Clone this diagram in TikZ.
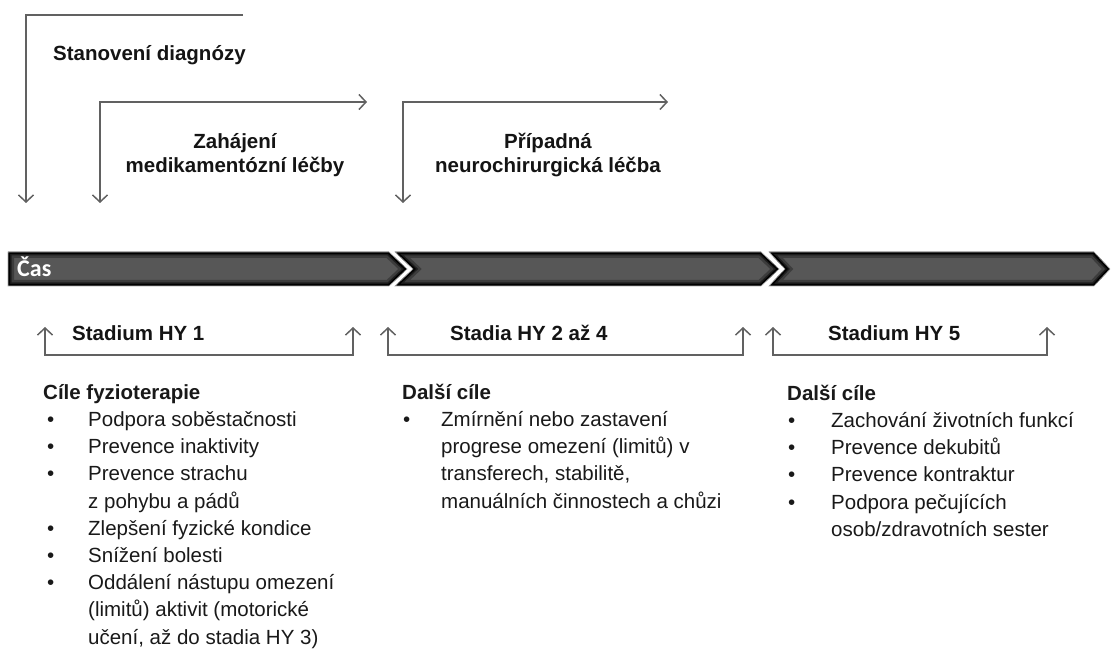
\documentclass[tikz,border=0pt]{standalone}
\usepackage{fontspec}
\setmainfont{Liberation Sans}
\newfontfamily\casfont{Carlito}
\usetikzlibrary{arrows.meta}

\tikzset{
  lead/.style={draw=black!62, line width=1.5pt},
  steplabel/.style={font=\fontsize{20.5}{24}\selectfont\bfseries, text=black!92, inner sep=0pt},
  goals/.style={font=\fontsize{20.5}{27.2}\selectfont, text=black!90, inner sep=0pt, anchor=north west},
}

% one part of the time bar, with a dark rim inside
\newcommand{\timeseg}[1]{%
  \begin{scope}
    \clip #1;
    \fill[black!66] #1;
    \draw[black, opacity=.3, line width=12pt] #1;
    \draw[black, opacity=.5, line width=7pt] #1;
    \draw[black, line width=4pt] #1;
  \end{scope}
  \draw[black!35, line width=.6pt] #1;}

\begin{document}
\begin{tikzpicture}[x=1pt,y=-1pt,>={Straight Barb[length=7pt,width=15pt]}]
  \useasboundingbox (0,0) rectangle (1111,652);

  % milestones above the bar
  \coordinate (dgE) at (243,15);
  \coordinate (dgT) at (26,203);
  \coordinate (mdE) at (367,102);
  \coordinate (mdT) at (100,203);
  \coordinate (nchE) at (668,102);
  \coordinate (nchT) at (403,203);
  \draw[lead,->] (dgE) -| (dgT);
  \draw[lead,<->] (mdT) |- (mdE);
  \draw[lead,<->] (nchT) |- (nchE);
  \node[steplabel,anchor=base west] (diag) at (53,61) {Stanovení diagnózy};
  \node[steplabel,anchor=north] (leky) at (235,132) {\begin{tabular}{@{}c@{}}Zahájení\\medikamentózní léčby\end{tabular}};
  \node[steplabel,anchor=north] (neuro) at (548,132) {\begin{tabular}{@{}c@{}}Případná\\neurochirurgická léčba\end{tabular}};

  % time bar
  \timeseg{(8,252) -- (389,252) -- (407,269) -- (389,286) -- (8,286) -- cycle}
  \timeseg{(395,252) -- (761,252) -- (779,269) -- (761,286) -- (395,286) -- (413,269) -- cycle}
  \timeseg{(769,252) -- (1094,252) -- (1110,269) -- (1094,286) -- (769,286) -- (785,269) -- cycle}
  \node[font=\casfont\fontsize{24}{28}\selectfont\bfseries, text=white, anchor=base west, inner sep=0pt] (cas) at (17,277) {Čas};

  % stages below the bar
  \coordinate (s1l) at (45,327);
  \coordinate (s1r) at (353,327);
  \coordinate (s2l) at (388,327);
  \coordinate (s2r) at (743,327);
  \coordinate (s3l) at (773,327);
  \coordinate (s3r) at (1047,327);
  \draw[lead,<->] (s1l) -- ++(0,28) -| (s1r);
  \draw[lead,<->] (s2l) -- ++(0,28) -| (s2r);
  \draw[lead,<->] (s3l) -- ++(0,28) -| (s3r);
  \node[steplabel,anchor=base west] (hy1) at (72,340) {Stadium HY 1};
  \node[steplabel,anchor=base west] (hy24) at (450,340) {Stadia HY 2 až 4};
  \node[steplabel,anchor=base west] (hy5) at (828,340) {Stadium HY 5};

  % goals
  \node[goals] (cile1) at (43,380) {\begin{tabular}{@{\hspace{4pt}}p{41pt}@{}l@{}}
    \multicolumn{2}{@{}l@{}}{\bfseries Cíle fyzioterapie}\\
    \textbullet & Podpora soběstačnosti\\
    \textbullet & Prevence inaktivity\\
    \textbullet & Prevence strachu\\
                & z pohybu a pádů\\
    \textbullet & Zlepšení fyzické kondice\\
    \textbullet & Snížení bolesti\\
    \textbullet & Oddálení nástupu omezení\\
                & (limitů) aktivit (motorické\\
                & učení, až do stadia HY 3)
  \end{tabular}};
  \node[goals] (cile2) at (402,380) {\begin{tabular}{@{\hspace{1pt}}p{38pt}@{}l@{}}
    \multicolumn{2}{@{}l@{}}{\bfseries Další cíle}\\
    \textbullet & Zmírnění nebo zastavení\\
                & progrese omezení (limitů) v\\
                & transferech, stabilitě,\\
                & manuálních činnostech a chůzi
  \end{tabular}};
  \node[goals] (cile3) at (787,381) {\begin{tabular}{@{\hspace{1pt}}p{43pt}@{}l@{}}
    \multicolumn{2}{@{}l@{}}{\bfseries Další cíle}\\
    \textbullet & Zachování životních funkcí\\
    \textbullet & Prevence dekubitů\\
    \textbullet & Prevence kontraktur\\
    \textbullet & Podpora pečujících\\
                & osob/zdravotních sester
  \end{tabular}};
\end{tikzpicture}
\end{document}
